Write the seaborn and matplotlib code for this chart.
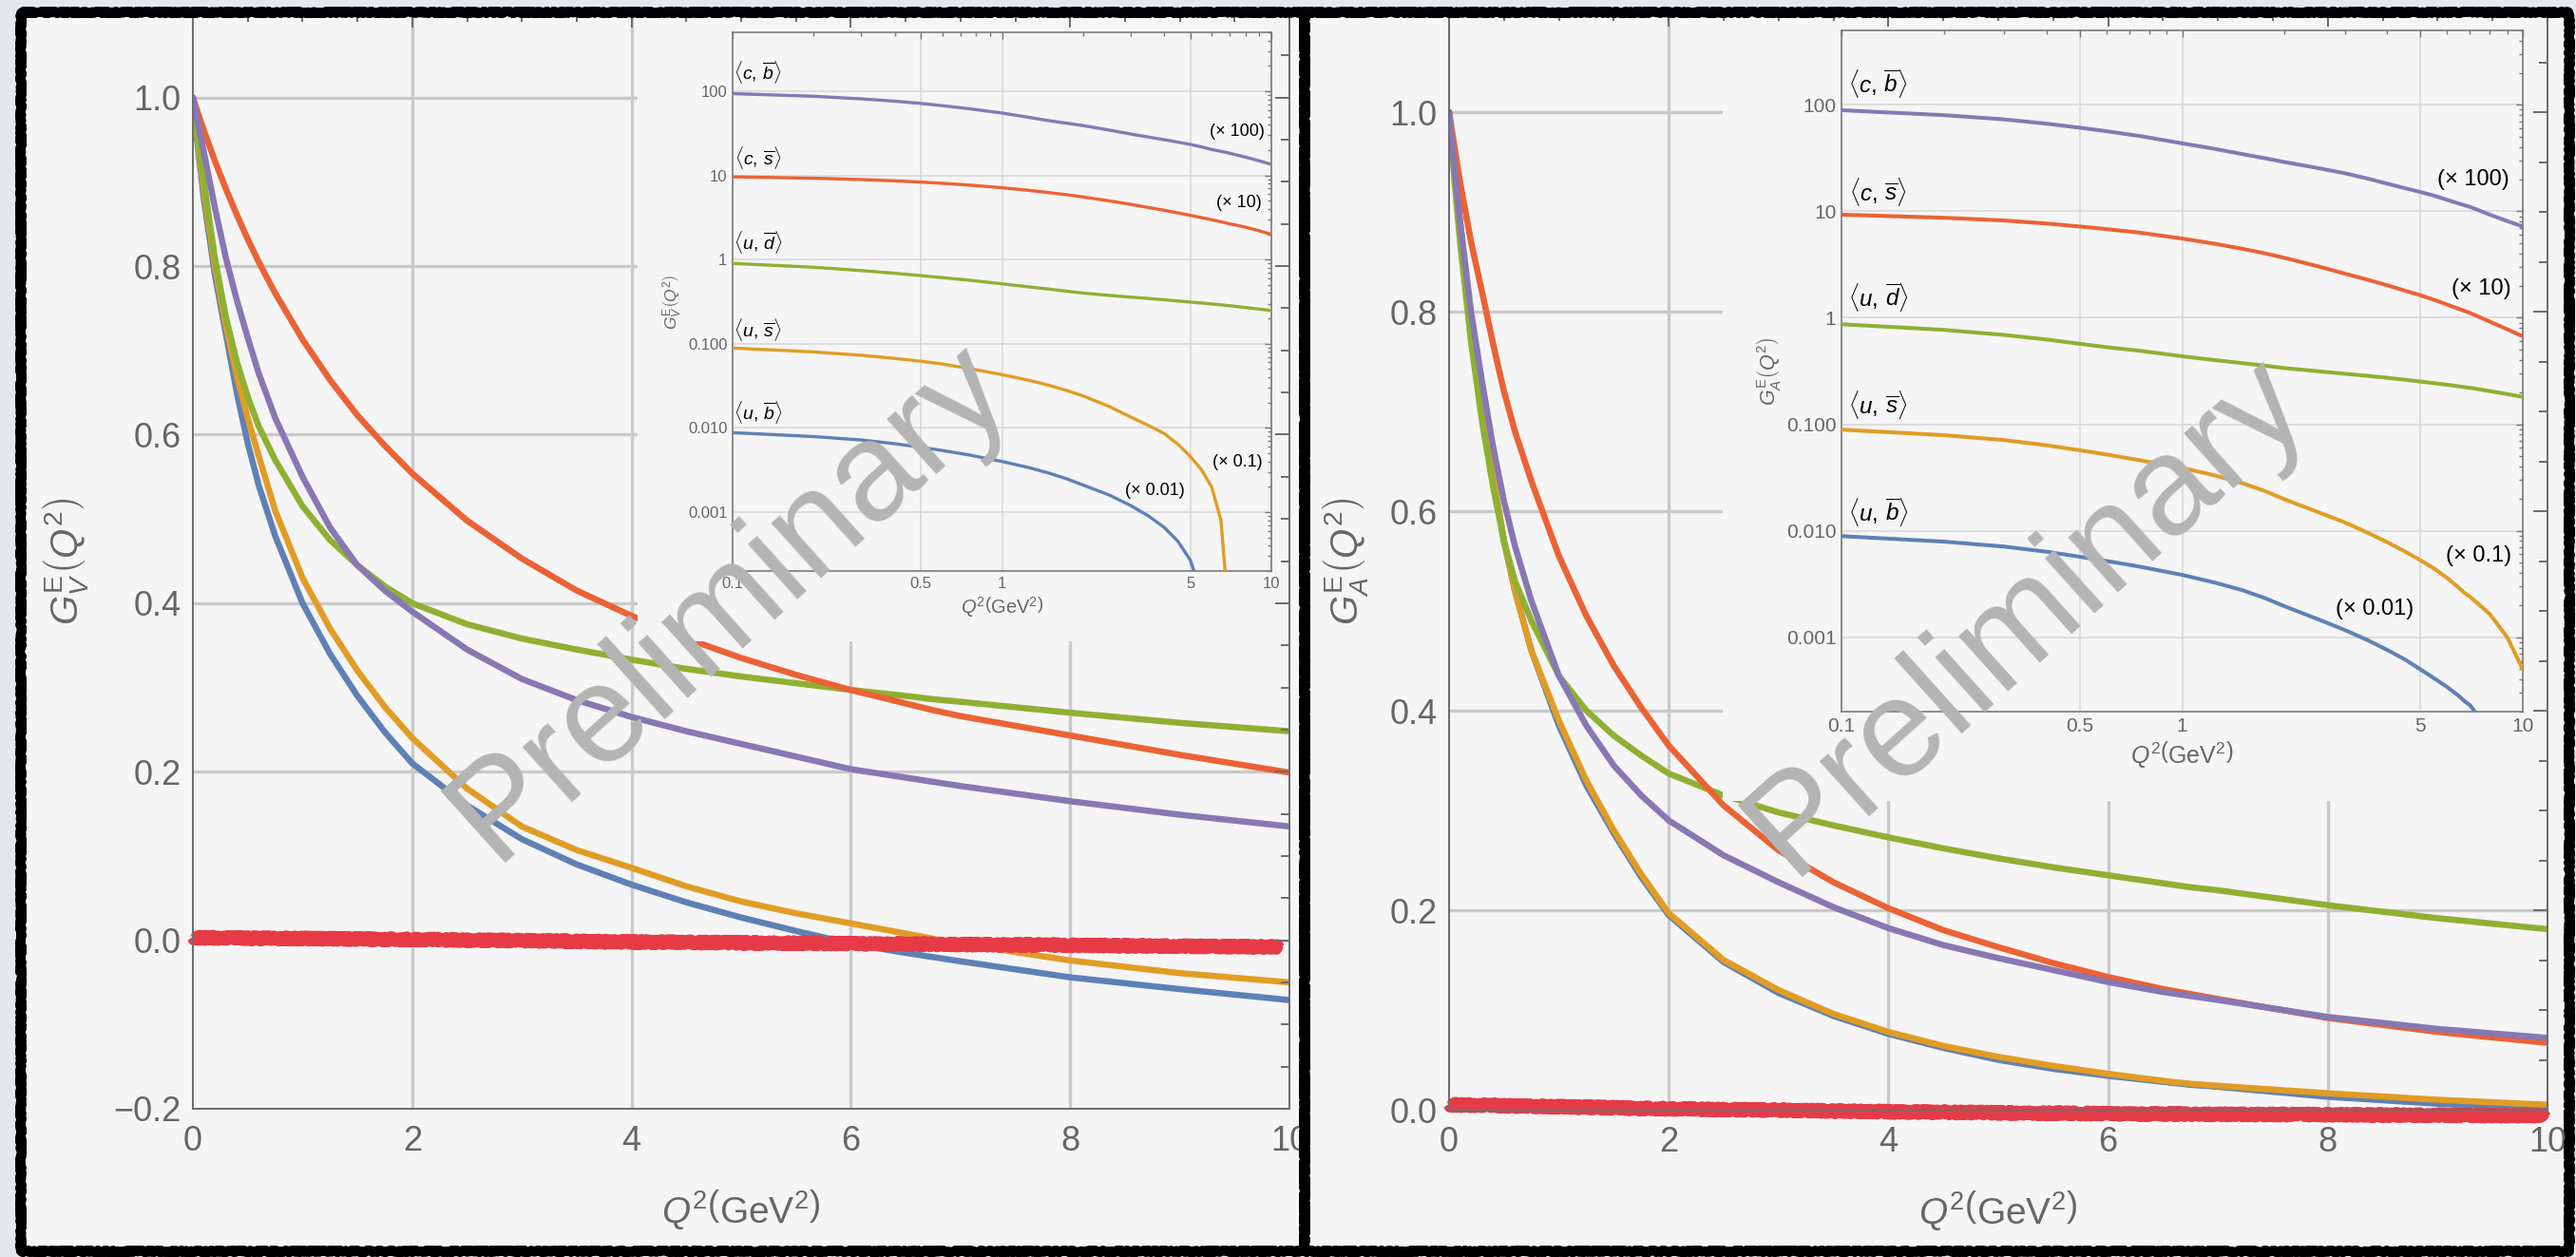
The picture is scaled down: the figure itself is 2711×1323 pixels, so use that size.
import matplotlib
matplotlib.use("Agg")
import numpy as np
import pandas as pd
import matplotlib.pyplot as plt
import seaborn as sns
from matplotlib.patches import Rectangle
from matplotlib.ticker import MultipleLocator, LogLocator, NullFormatter

# ---------------- data ----------------
q2 = [0, 0.05, 0.1, 0.2, 0.3, 0.4, 0.5, 0.6, 0.75, 1, 1.25, 1.5, 1.75, 2,
      2.5, 3, 3.5, 4, 4.5, 5, 5.5, 6, 6.5, 6.75, 7, 8, 9, 10]

# G_V^E(Q^2)
gv_ub = [1.0, 0.935, 0.88, 0.79, 0.72, 0.65, 0.59, 0.54, 0.48, 0.40, 0.34, 0.29,
         0.247, 0.21, 0.16, 0.12, 0.09, 0.066, 0.045, 0.027, 0.011, -0.004,
         -0.015, -0.020, -0.025, -0.044, -0.058, -0.071]
gv_us = [1.0, 0.94, 0.89, 0.80, 0.73, 0.67, 0.62, 0.575, 0.51, 0.43, 0.37, 0.32,
         0.277, 0.24, 0.18, 0.135, 0.107, 0.086, 0.064, 0.046, 0.032, 0.020,
         0.008, 0.0018, -0.004, -0.024, -0.039, -0.05]
gv_ud = [1.0, 0.945, 0.90, 0.81, 0.74, 0.687, 0.645, 0.61, 0.57, 0.515, 0.475,
         0.445, 0.42, 0.40, 0.375, 0.358, 0.345, 0.333, 0.322, 0.313, 0.305,
         0.297, 0.29, 0.286, 0.283, 0.27, 0.258, 0.248]
gv_cs = [1.0, 0.98, 0.961, 0.925, 0.892, 0.861, 0.832, 0.805, 0.768, 0.713,
         0.665, 0.623, 0.587, 0.554, 0.498, 0.453, 0.415, 0.385, 0.358, 0.335,
         0.315, 0.297, 0.281, 0.273, 0.266, 0.243, 0.22, 0.199]
gv_cb = [1.0, 0.967, 0.935, 0.87, 0.81, 0.76, 0.715, 0.673, 0.62, 0.55, 0.49,
         0.445, 0.415, 0.39, 0.345, 0.31, 0.285, 0.265, 0.248, 0.233, 0.218,
         0.203, 0.193, 0.188, 0.183, 0.165, 0.149, 0.135]

# G_A^E(Q^2)
ga_ub = [1.0, 0.94, 0.89, 0.79, 0.71, 0.635, 0.57, 0.52, 0.46, 0.385, 0.325,
         0.277, 0.233, 0.195, 0.148, 0.117, 0.094, 0.076, 0.062, 0.05, 0.041,
         0.034, 0.028, 0.025, 0.023, 0.013, 0.006, 0.001]
ga_us = [1.0, 0.94, 0.89, 0.79, 0.71, 0.635, 0.57, 0.52, 0.46, 0.39, 0.33, 0.28,
         0.236, 0.197, 0.15, 0.12, 0.096, 0.078, 0.064, 0.053, 0.044, 0.036,
         0.029, 0.026, 0.024, 0.0165, 0.01, 0.005]
ga_ud = [1.0, 0.93, 0.87, 0.77, 0.69, 0.625, 0.57, 0.53, 0.49, 0.435, 0.40,
         0.375, 0.355, 0.337, 0.315, 0.298, 0.285, 0.273, 0.262, 0.252, 0.243,
         0.235, 0.227, 0.223, 0.22, 0.205, 0.192, 0.181]
ga_cs = [1.0, 0.965, 0.93, 0.87, 0.82, 0.768, 0.72, 0.68, 0.63, 0.555, 0.495,
         0.445, 0.403, 0.365, 0.305, 0.26, 0.228, 0.202, 0.18, 0.163, 0.147,
         0.133, 0.121, 0.116, 0.111, 0.092, 0.078, 0.067]
ga_cb = [1.0, 0.943, 0.89, 0.80, 0.73, 0.665, 0.61, 0.565, 0.51, 0.435, 0.385,
         0.345, 0.315, 0.29, 0.255, 0.228, 0.203, 0.182, 0.165, 0.152, 0.14,
         0.128, 0.118, 0.114, 0.11, 0.093, 0.081, 0.072]

# noisy red band near zero
band_q2_v = [0, 2, 4, 6, 8, 9.92]
band_gv = [0.003, 0.001, -0.002, -0.004, -0.006, -0.008]
band_q2_a = [0, 2, 4, 6, 8, 9.98]
band_ga = [0.005, 0.001, -0.002, -0.004, -0.005, -0.006]

mesons = ["ub", "us", "ud", "cs", "cb"]
meson_labels = [r"$\langle u,\,\overline{b}\rangle$", r"$\langle u,\,\overline{s}\rangle$",
                r"$\langle u,\,\overline{d}\rangle$", r"$\langle c,\,\overline{s}\rangle$",
                r"$\langle c,\,\overline{b}\rangle$"]
inset_factors = [0.01, 0.1, 1, 10, 100]
factor_labels = ["(× 0.01)", "(× 0.1)", "", "(× 10)", "(× 100)"]

x_ticks = [0, 2, 4, 6, 8, 10]
gv_yticks = [-0.2, 0.0, 0.2, 0.4, 0.6, 0.8, 1.0]
ga_yticks = [0.0, 0.2, 0.4, 0.6, 0.8, 1.0]
inset_xticks = [0.1, 0.5, 1, 5, 10]
inset_xticklabels = ["0.1", "0.5", "1", "5", "10"]
inset_yticks = [0.001, 0.01, 0.1, 1, 10, 100]
inset_yticklabels = ["0.001", "0.010", "0.100", "1", "10", "100"]

# ---------------- style ----------------
sns.set_theme(style="white")
plt.rcParams["font.family"] = ["Liberation Sans", "DejaVu Sans"]
plt.rcParams["mathtext.fontset"] = "custom"
plt.rcParams["mathtext.rm"] = "Liberation Sans"
plt.rcParams["mathtext.it"] = "Liberation Sans:italic"
plt.rcParams["mathtext.bf"] = "Liberation Sans:bold"
plt.rcParams["axes.unicode_minus"] = True

COLORS = dict(zip(mesons, ["#5E81B5", "#E19C24", "#8FB032", "#EB6235", "#8778B3"]))
BAND = "#e63b47"
AX_GRAY = "#6e6e6e"
LBL_GRAY = "#666666"
PANEL_BG = "#f5f5f5"
GRID = "#c9c9c9"

W, H = 2711, 1323
fig = plt.figure(figsize=(W / 100, H / 100), dpi=100)
fig.patch.set_facecolor("#e4e8eb")


def frac(x0, y0, x1, y1):
    return [x0 / W, 1 - y1 / H, (x1 - x0) / W, (y1 - y0) / H]


def long_df(x, cols, factors=None, positive=False):
    rows = []
    for i, (m, vals) in enumerate(zip(mesons, cols)):
        f = 1 if factors is None else factors[i]
        for xi, v in zip(x, vals):
            val = v * f
            if positive and (xi <= 0 or val <= 0):
                continue
            rows.append((xi, val, m))
    return pd.DataFrame(rows, columns=["Q2", "G", "meson"])


def panel(px_panel, px_axes, px_inset, series, yticks, ylim, ylabel,
          inset_ylabel, box, band_x, band_y, wm_center, name_pos, factor_pos,
          fs_tick_i, fs_name, fs_fac, fs_lab_i, fs_ylab_i, lw_i, ylab_x):
    x0, y0, x1, y1 = px_panel
    fig.add_artist(Rectangle((x0 / W, 1 - y1 / H), (x1 - x0) / W, (y1 - y0) / H,
                             transform=fig.transFigure, facecolor=PANEL_BG,
                             edgecolor="none", zorder=-5))
    for lw, sk in [(7.0, (1.2, 3, 3)), (4.0, (2.0, 2, 4))]:
        border = Rectangle((x0 / W, 1 - y1 / H), (x1 - x0) / W, (y1 - y0) / H,
                           transform=fig.transFigure, facecolor="none",
                           edgecolor="black", lw=lw, zorder=20,
                           joinstyle="round", capstyle="round")
        border.set_sketch_params(*sk)
        fig.add_artist(border)

    # main axes
    ax = fig.add_axes(frac(*px_axes))
    ax.set_facecolor("none")
    ax.set_axisbelow(False)
    df = long_df(q2, series)
    sns.lineplot(data=df, x="Q2", y="G", hue="meson", hue_order=mesons,
                 palette=COLORS, estimator=None, sort=False, legend=False,
                 lw=4.7, ax=ax, zorder=2)
    for t in x_ticks[1:-1]:
        ax.axvline(t, color=GRID, lw=2.4, zorder=1)
    for t in yticks[1:]:
        ax.axhline(t, color=GRID, lw=2.4, zorder=1)
    bx, by = box
    ax.add_patch(Rectangle((bx, by), 10.5, 1.0, facecolor=PANEL_BG,
                           edgecolor="none", zorder=2.4))
    for lw, sk in [(9.0, (2.2, 2, 3)), (6.5, (3.0, 1.5, 4)), (4.0, (3.5, 1.2, 5))]:
        bl = ax.plot(band_x, band_y, color=BAND, lw=lw, solid_capstyle="butt",
                     solid_joinstyle="round", zorder=2.3, clip_on=False)[0]
        bl.set_sketch_params(*sk)

    ax.set_xlim(0, 10)
    ax.set_ylim(*ylim)
    ax.set_xticks(x_ticks, [str(t) for t in x_ticks])
    ax.set_yticks(yticks, [f"{t:.1f}".replace("-", "\u2212") for t in yticks])
    ax.xaxis.set_minor_locator(MultipleLocator(0.5))
    ax.yaxis.set_minor_locator(MultipleLocator(0.05))
    ax.tick_params(which="both", direction="in", top=True, right=True,
                   color=AX_GRAY, width=1.45)
    ax.tick_params(which="major", length=10.8, labelsize=26, labelcolor=LBL_GRAY)
    ax.tick_params(which="minor", length=6.5)
    ax.tick_params(axis="x", pad=12)
    ax.tick_params(axis="y", pad=9)
    for s in ax.spines.values():
        s.set_visible(True)
        s.set_color(AX_GRAY)
        s.set_linewidth(1.45)
    ax.set_xlabel(r"$Q^{2}\left(\mathrm{GeV}^{2}\right)$", fontsize=28, color=LBL_GRAY)
    ax.xaxis.set_label_coords(0.5, -0.072)
    ax.set_ylabel(ylabel, fontsize=29, color=LBL_GRAY)
    ax.yaxis.set_label_coords(ylab_x, 0.5)

    # inset
    axi = fig.add_axes(frac(*px_inset), zorder=3)
    axi.set_facecolor(PANEL_BG)
    axi.set_xscale("log")
    axi.set_yscale("log")
    dfi = long_df(q2, series, inset_factors, positive=True)
    sns.lineplot(data=dfi, x="Q2", y="G", hue="meson", hue_order=mesons,
                 palette=COLORS, estimator=None, sort=False, legend=False,
                 lw=lw_i, ax=axi, zorder=3)
    axi.set_xlim(0.1, 10)
    axi.set_ylim(2e-4, 500)
    axi.set_xticks(inset_xticks, inset_xticklabels)
    axi.set_yticks(inset_yticks, inset_yticklabels)
    axi.xaxis.set_minor_locator(LogLocator(base=10, subs=np.arange(2, 10)))
    axi.yaxis.set_minor_locator(LogLocator(base=10, subs=np.arange(2, 10)))
    axi.xaxis.set_minor_formatter(NullFormatter())
    axi.yaxis.set_minor_formatter(NullFormatter())
    axi.grid(True, which="major", color="#d6d6d6", lw=1.1)
    axi.set_axisbelow(True)
    axi.tick_params(which="both", direction="in", top=True, right=True,
                    color="#777777", width=1.0)
    axi.tick_params(which="major", length=5, labelsize=fs_tick_i,
                    labelcolor=LBL_GRAY, pad=4)
    axi.tick_params(which="minor", length=3)
    for s in axi.spines.values():
        s.set_visible(True)
        s.set_color("#7a7a7a")
        s.set_linewidth(1.2)
    axi.set_xlabel(r"$Q^{2}\left(\mathrm{GeV}^{2}\right)$", fontsize=fs_lab_i,
                   color=LBL_GRAY, labelpad=3)
    axi.set_ylabel(inset_ylabel, fontsize=fs_ylab_i, color=LBL_GRAY, labelpad=3)
    for lab, (tx, ty) in zip(meson_labels, name_pos):
        axi.text(tx, ty, lab, fontsize=fs_name, color="black", ha="center",
                 va="center", zorder=5)
    for lab, pos in zip(factor_labels, factor_pos):
        if lab:
            axi.text(pos[0], pos[1], lab, fontsize=fs_fac, color="black",
                     ha="center", va="center", zorder=5)

    fig.text(wm_center[0] / W, 1 - wm_center[1] / H, "Preliminary",
             fontsize=106, color="#b4b4b4", rotation=42, ha="center",
             va="center", rotation_mode="anchor", zorder=15)
    return ax, axi


panel(px_panel=(22, 13, 1373, 1317), px_axes=(203, 14, 1357, 1167),
      px_inset=(771, 34, 1338, 601),
      series=[gv_ub, gv_us, gv_ud, gv_cs, gv_cb], yticks=gv_yticks,
      ylim=(-0.2, 1.1), ylabel=r"$G_{V}^{\mathrm{E}}\left(Q^{2}\right)$",
      inset_ylabel=r"$G_{V}^{\mathrm{E}}\left(Q^{2}\right)$",
      box=(4.055, 0.355), band_x=band_q2_v, band_y=band_gv,
      wm_center=(768, 633),
      name_pos=[(0.124, 0.0154), (0.124, 0.146), (0.124, 1.61), (0.124, 16.1),
                (0.124, 169)],
      factor_pos=[(3.69, 0.00182), (7.46, 0.0039), None, (7.6, 4.72),
                  (7.46, 32.7)],
      fs_tick_i=12, fs_name=14, fs_fac=13, fs_lab_i=14.5, fs_ylab_i=12.5,
      lw_i=2.4, ylab_x=-0.094)

panel(px_panel=(1373, 13, 2704, 1317), px_axes=(1525, 13, 2681, 1168),
      px_inset=(1938, 32, 2655, 749),
      series=[ga_ub, ga_us, ga_ud, ga_cs, ga_cb], yticks=ga_yticks,
      ylim=(0.0, 1.1), ylabel=r"$G_{A}^{\mathrm{E}}\left(Q^{2}\right)$",
      inset_ylabel=r"$G_{A}^{\mathrm{E}}\left(Q^{2}\right)$",
      box=(2.49, 0.31), band_x=band_q2_a, band_y=band_ga,
      wm_center=(2133, 648),
      name_pos=[(0.128, 0.0149), (0.128, 0.152), (0.128, 1.57), (0.128, 15.3),
                (0.128, 157)],
      factor_pos=[(3.67, 0.00184), (7.4, 0.0058), None, (7.53, 1.88),
                  (7.16, 19.8)],
      fs_tick_i=15, fs_name=17.5, fs_fac=17, fs_lab_i=18, fs_ylab_i=15.5,
      lw_i=2.9, ylab_x=-0.072)

fig.savefig("out.png", dpi=100, facecolor=fig.get_facecolor())
